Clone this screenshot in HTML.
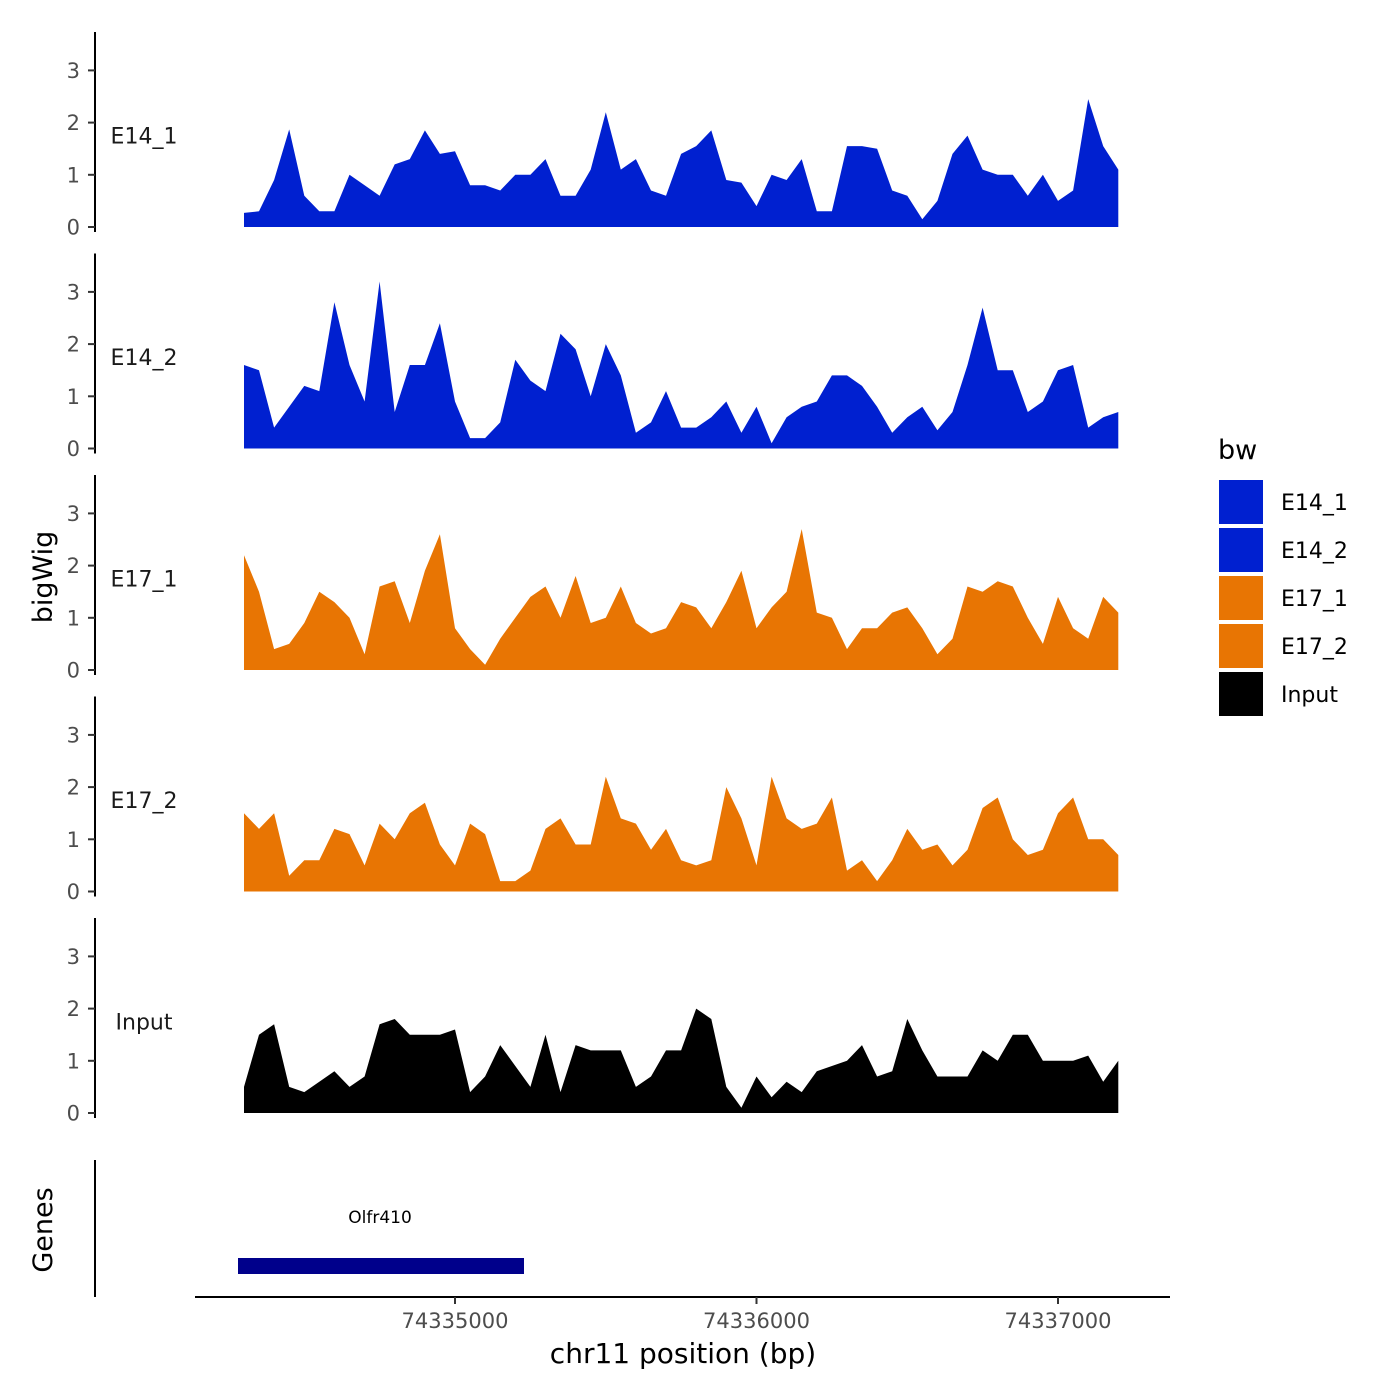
<!DOCTYPE html>
<html><head><meta charset="utf-8"><style>
html,body{margin:0;padding:0;background:#fff;}
svg{display:block;font-family:"DejaVu Sans","Liberation Sans",sans-serif;}
</style></head><body>
<svg id="chart" width="1400" height="1400" viewBox="0 0 1400 1400" xmlns="http://www.w3.org/2000/svg">
<rect width="1400" height="1400" fill="#fff"/>
<g id="panels"></g>
<g id="genes">
  <line x1="95" y1="1160" x2="95" y2="1297" stroke="#000" stroke-width="2"/>
  <text transform="translate(52,1230) rotate(-90)" text-anchor="middle" font-size="27" fill="#000">Genes</text>
  <rect x="238" y="1258" width="286" height="16" fill="#00008B"/>
  <text x="380" y="1223" text-anchor="middle" font-size="17" fill="#000">Olfr410</text>
</g>
<g id="xaxis">
  <line x1="195" y1="1297" x2="1170" y2="1297" stroke="#000" stroke-width="2"/>
</g>
<text x="683" y="1363" text-anchor="middle" font-size="28" fill="#000">chr11 position (bp)</text>
<text transform="translate(52,577) rotate(-90)" text-anchor="middle" font-size="27" fill="#000">bigWig</text>
<g id="legend">
  <text x="1218" y="459" font-size="27" fill="#000">bw</text>
</g>
</svg>
<script>
const tracks = ["E14_1","E14_2","E17_1","E17_2","Input"];
const colors = ["#0020D0","#0020D0","#E87503","#E87503","#000000"];
const startBp = 74334300;
const stepBp = 50;
const e14_1 = [0.27,0.3,0.9,1.87,0.6,0.3,0.3,1.0,0.8,0.6,1.2,1.3,1.85,1.4,1.45,0.8,0.8,0.7,1.0,1.0,1.3,0.6,0.6,1.1,2.2,1.1,1.3,0.7,0.6,1.4,1.55,1.85,0.9,0.85,0.4,1.0,0.9,1.3,0.3,0.3,1.55,1.55,1.5,0.7,0.6,0.15,0.5,1.4,1.75,1.1,1.0,1.0,0.6,1.0,0.5,0.7,2.45,1.55,1.1];
const e14_2 = [1.6,1.5,0.4,0.8,1.2,1.1,2.8,1.6,0.9,3.2,0.7,1.6,1.6,2.4,0.9,0.2,0.2,0.5,1.7,1.3,1.1,2.2,1.9,1.0,2.0,1.4,0.3,0.5,1.1,0.4,0.4,0.6,0.9,0.3,0.8,0.1,0.6,0.8,0.9,1.4,1.4,1.2,0.8,0.3,0.6,0.8,0.35,0.7,1.6,2.7,1.5,1.5,0.7,0.9,1.5,1.6,0.4,0.6,0.7];
const e17_1 = [2.2,1.5,0.4,0.5,0.9,1.5,1.3,1.0,0.3,1.6,1.7,0.9,1.9,2.6,0.8,0.4,0.1,0.6,1.0,1.4,1.6,1.0,1.8,0.9,1.0,1.6,0.9,0.7,0.8,1.3,1.2,0.8,1.3,1.9,0.8,1.2,1.5,2.7,1.1,1.0,0.4,0.8,0.8,1.1,1.2,0.8,0.3,0.6,1.6,1.5,1.7,1.6,1.0,0.5,1.4,0.8,0.6,1.4,1.1];
const e17_2 = [1.5,1.2,1.5,0.3,0.6,0.6,1.2,1.1,0.5,1.3,1.0,1.5,1.7,0.9,0.5,1.3,1.1,0.2,0.2,0.4,1.2,1.4,0.9,0.9,2.2,1.4,1.3,0.8,1.2,0.6,0.5,0.6,2.0,1.4,0.5,2.2,1.4,1.2,1.3,1.8,0.4,0.6,0.2,0.6,1.2,0.8,0.9,0.5,0.8,1.6,1.8,1.0,0.7,0.8,1.5,1.8,1.0,1.0,0.7];
const input = [0.5,1.5,1.7,0.5,0.4,0.6,0.8,0.5,0.7,1.7,1.8,1.5,1.5,1.5,1.6,0.4,0.7,1.3,0.9,0.5,1.5,0.4,1.3,1.2,1.2,1.2,0.5,0.7,1.2,1.2,2.0,1.8,0.5,0.1,0.7,0.3,0.6,0.4,0.8,0.9,1.0,1.3,0.7,0.8,1.8,1.2,0.7,0.7,0.7,1.2,1.0,1.5,1.5,1.0,1.0,1.0,1.1,0.6,1.0];
const series = [e14_1,e14_2,e17_1,e17_2,input];
const yTicks = [0,1,2,3];
const xTicks = [74335000,74336000,74337000];

const NS="http://www.w3.org/2000/svg";
function xScale(bp){return 455 + (bp-74335000)*0.3015;}
function yScale(v,p){return 227 + p*221.5 - v*52.2;}
function mk(tag,attrs,parent){const e=document.createElementNS(NS,tag);for(const k in attrs)e.setAttribute(k,attrs[k]);parent.appendChild(e);return e;}
const panels=document.getElementById('panels');
tracks.forEach((t,p)=>{
  const g=mk('g',{},panels);
  
  
  const top=32+p*221.5;
  const ax=mk('line',{x1:95,y1:top,x2:95,y2:yScale(0,p)+5,stroke:'#000','stroke-width':2},g);
  
  
  yTicks.forEach(v=>{
    const y=yScale(v,p);
    mk('line',{x1:88,y1:y,x2:95,y2:y,stroke:'#333','stroke-width':2},g);
    const tx=mk('text',{x:80,y:y+7.5,'text-anchor':'end','font-size':21,fill:'#4d4d4d'},g);
    tx.textContent=v;
    
    
  });
  const lbl=mk('text',{x:144,y:yScale(1.75,p)+8,'text-anchor':'middle','font-size':22,fill:'#1a1a1a'},g);
  lbl.textContent=t;
  
  
  const vals=series[p];
  let d='M'+xScale(startBp).toFixed(1)+','+yScale(0,p);
  vals.forEach((v,i)=>{d+=' L'+xScale(startBp+i*stepBp).toFixed(1)+','+yScale(v,p).toFixed(1);});
  const endBp=startBp+(vals.length-1)*stepBp;
  d+=' L'+xScale(endBp).toFixed(1)+','+yScale(0,p)+' Z';
  const area=mk('path',{d:d,fill:colors[p]},g);
  
  
});
const xa=document.getElementById('xaxis');
xTicks.forEach(b=>{
  const x=xScale(b);
  mk('line',{x1:x,y1:1297,x2:x,y2:1304,stroke:'#333','stroke-width':2},xa);
  const tx=mk('text',{x:x,y:1328,'text-anchor':'middle','font-size':21,fill:'#4d4d4d'},xa);
  tx.textContent=b;
  
  
});
const lg=document.getElementById('legend');
const legendColors=["#0020D0","#0020D0","#E87503","#E87503","#000000"];
tracks.forEach((t,i)=>{
  const y=480+i*48;
  const r=mk('rect',{x:1219,y:y,width:44,height:44,fill:legendColors[i]},lg);
  
  
  const tx=mk('text',{x:1281,y:y+30,'font-size':22,fill:'#000'},lg);
  tx.textContent=t;
  
  
});
</script>
</body></html>
